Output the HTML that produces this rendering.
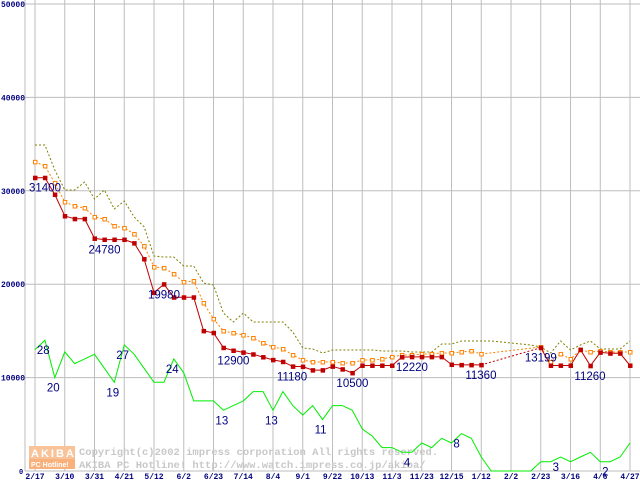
<!DOCTYPE html>
<html><head><meta charset="utf-8"><style>
html,body{margin:0;padding:0;background:#fff;}
svg{display:block;font-family:"Liberation Sans",sans-serif;}
</style></head><body>
<svg id="chart" width="640" height="480" viewBox="0 0 640 480">
<g id="grid"></g>
<g id="watermark">
 <rect x="29" y="446" width="46" height="13" fill="#f9c39a"/>
 <text x="31" y="457" font-size="11" font-weight="bold" fill="#fff" letter-spacing="2">AKIBA</text>
 <rect x="29" y="459" width="46" height="10" fill="#f9b07a"/>
 <text x="31" y="467" font-size="7" font-weight="bold" fill="#fff">PC Hotline!</text>
 <text x="79" y="455" font-size="10.5" font-family="Liberation Mono, monospace" font-weight="bold" fill="#c8c8c8">Copyright(c)2002 impress corporation All rights reserved.</text>
 <text x="79" y="468" font-size="10.5" font-family="Liberation Mono, monospace" font-weight="bold" fill="#c8c8c8">AKIBA PC Hotline!  http://www.watch.impress.co.jp/akiba/</text>
</g>
<g id="series"></g>
<g id="labels"></g>
</svg>
<script>
const categories=["2/17","","","3/10","","","3/31","","","4/21","","","5/12","","","6/2","","","6/23","","","7/14","","","8/4","","","9/1","","","9/22","","","10/13","","","11/3","","","11/23","","","12/15","","","1/12","","","2/2","","","2/23","","","3/16","","","4/6","","","4/27"];
const yTicks=[0,10000,20000,30000,40000,50000];
const minPrice=[31400,31400,29600,27300,27000,27000,24900,24780,24780,24780,24400,22700,19100,20000,18600,18600,18600,15000,14800,13200,12900,12700,12500,12200,11900,11700,11200,11180,10800,10800,11200,10900,10500,11300,11300,11300,11300,12200,12220,12220,12220,12220,11400,11360,11360,11360,null,null,null,null,null,13199,11300,11300,11300,13000,11260,12700,12600,12600,11300];
const avgPrice=[33100,32660,30840,28800,28370,28160,27200,26980,26230,26020,25370,24090,21840,21740,21090,20240,20340,17990,16280,14990,14780,14560,14240,13700,13280,13060,12420,11880,11670,11670,11670,11560,11560,11880,11880,11990,12210,12420,12420,12530,12530,12630,12630,12740,12850,12530,null,null,null,null,null,13280,11670,12530,11990,12960,12740,12850,12740,12740,12740];
const maxPrice=[34900,34900,32230,30090,30090,30940,29120,30090,28050,28910,27200,26130,23020,22910,22910,21950,21950,20130,19910,16920,15950,16920,15950,15950,15950,15950,14880,13170,13060,12630,12960,12960,12960,12960,12960,12850,12850,12850,12740,12740,12740,13600,13600,13920,13920,13920,13920,13810,13700,13600,13490,13280,12630,13920,12960,13490,13920,13060,13060,13060,13920];
const shopCount=[26,28,20,25.5,23,24,25,22,19,27,25,22,19,19,24,21,15,15,15,13,14,15,17,17,13,17,14,12,14,11,14,14,13,9,7.5,5,5,4,4,6,5,7,6,8,7,3,0,0,0,0,0,2,2,3,2,3,4,2,2,3,6];
const priceLabels=[[0,"31400"],[6,"24780"],[12,"19980"],[19,"12900"],[25,"11180"],[31,"10500"],[37,"12220"],[44,"11360"],[50,"13199"],[55,"11260"]];
const countLabels=[[1,"28"],[2,"20"],[8,"19"],[9,"27"],[14,"24"],[19,"13"],[24,"13"],[29,"11"],[38,"4"],[43,"8"],[53,"3"],[58,"2"]];

const NS="http://www.w3.org/2000/svg";
function X(i){return 35+i*9.917;}
function Y(v){return 471-v*0.00934;}
function YC(c){return Y(c*500);}
function mk(tag,attrs,parent){const e=document.createElementNS(NS,tag);for(const k in attrs)e.setAttribute(k,attrs[k]);parent.appendChild(e);return e;}
const grid=document.getElementById('grid'),ser=document.getElementById('series'),lab=document.getElementById('labels');

yTicks.forEach(t=>{
 const l=mk('line',{x1:25,x2:640,y1:Y(t),y2:Y(t),stroke:'#bdbdbd','stroke-width':1},grid);
 
 
 const tx=mk('text',{x:t===0?19:1,y:Y(t)+3,'font-size':t===0?7:8,'font-weight':'bold',fill:'#000080','font-family':'Liberation Mono, monospace'},grid);
 tx.textContent=String(t);
 
 
});
const ll=mk('line',{x1:25,x2:25,y1:0,y2:471,stroke:'#bdbdbd'},grid);


categories.forEach((c,i)=>{
 if(!c)return;
 const l=mk('line',{x1:X(i),x2:X(i),y1:0,y2:471,stroke:'#bdbdbd'},grid);
 
 
 const tx=mk('text',{x:X(i),y:479,'font-size':8,'font-weight':'bold',fill:'#000080','text-anchor':'middle','font-family':'Liberation Mono, monospace'},grid);
 tx.textContent=c;
 
 
});

function drawLine(arr,color,dash,name,fy){
 let d='',bridge='',prev=null,gap=false;
 arr.forEach((v,i)=>{
  if(v===null){gap=true;return;}
  const p=X(i).toFixed(1)+','+fy(v).toFixed(1);
  if(prev===null)d+='M'+p;
  else if(gap){d+='M'+p;bridge+='M'+prev+'L'+p;}
  else d+='L'+p;
  prev=p;gap=false;
 });
 const a={d:d,fill:'none',stroke:color,'stroke-width':1};
 if(dash)a['stroke-dasharray']=dash;
 const pth=mk('path',a,ser);
 
 
 if(bridge){
  const b=mk('path',{d:bridge,fill:'none',stroke:color,'stroke-dasharray':'2,2'},ser);
  
  
 }
}
drawLine(maxPrice,'#808000','2,2','max-price-line',Y);
drawLine(avgPrice,'#ff8000','2,2','avg-price-line',Y);
drawLine(minPrice,'#c00000',null,'min-price-line',Y);
drawLine(shopCount,'#00ee00',null,'shop-count-line',YC);

avgPrice.forEach((v,i)=>{
 if(v===null)return;
 const r=mk('rect',{x:X(i)-1.5,y:Y(v)-1.5,width:3.5,height:3.5,fill:'#fff',stroke:'#ff8000','stroke-width':1},ser);
 
 
});
minPrice.forEach((v,i)=>{
 if(v===null)return;
 const r=mk('rect',{x:X(i)-2,y:Y(v)-2,width:4.5,height:4.5,fill:'#c00000'},ser);
 
 
});
priceLabels.forEach(([i,t])=>{
 const tx=mk('text',{x:X(i)-6,y:Y(parseFloat(t))+14,'font-size':11.5,fill:'#000080'},lab);
 tx.textContent=t;
 
 
});
countLabels.forEach(([i,t])=>{
 const tx=mk('text',{x:X(i)-8,y:YC(shopCount[i])+14,'font-size':11.5,fill:'#000080'},lab);
 tx.textContent=t;
 
 
});
</script>
</body></html>
